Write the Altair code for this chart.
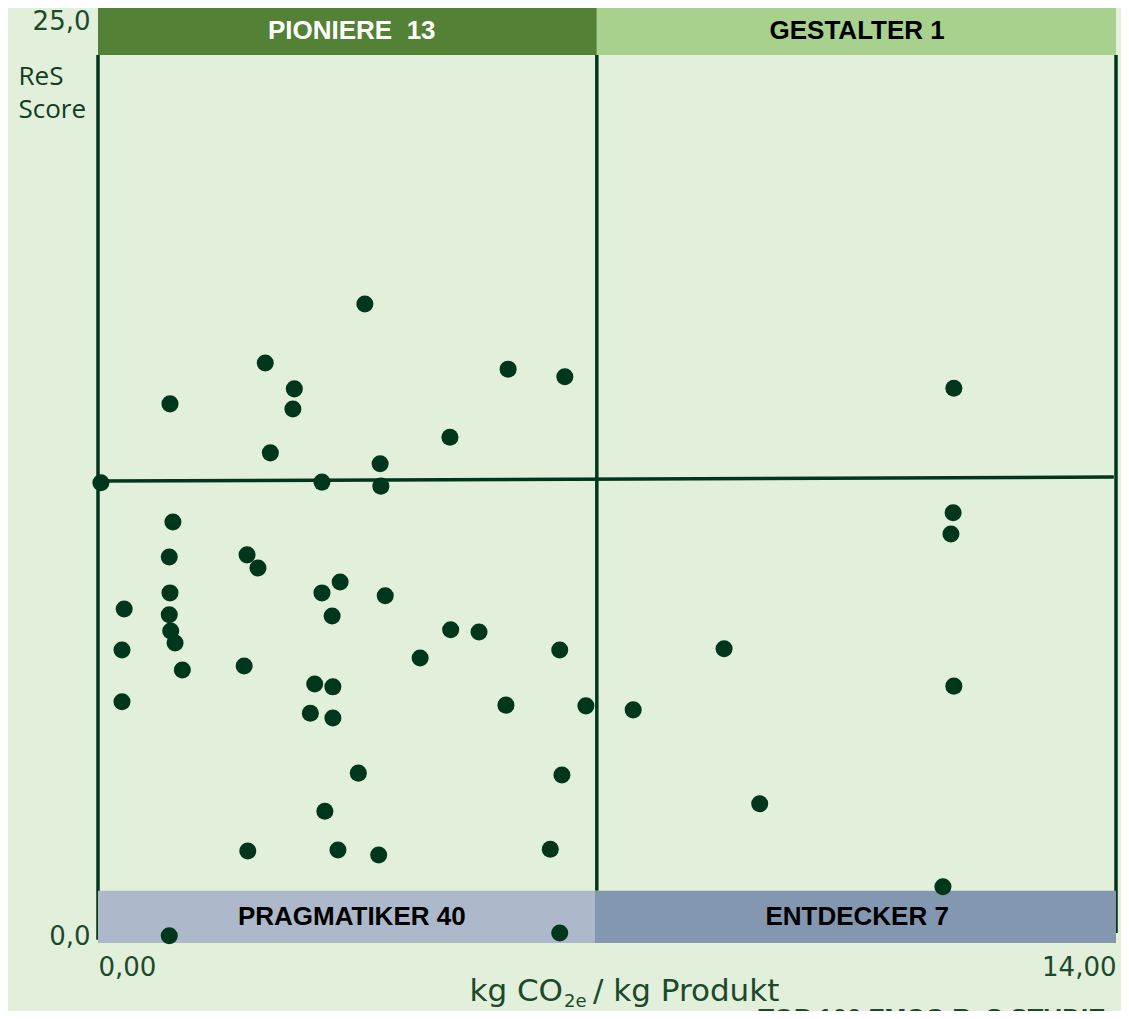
import altair as alt
import pandas as pd

# ---- data ----
co2 = [0.04, 0.36, 0.33, 0.33, 0.99, 1.03, 0.98, 0.99, 0.98, 1.00, 1.06, 1.16, 0.98,
       2.30, 2.70, 2.68, 2.37, 2.05, 2.20, 2.01, 2.06,
       3.67, 3.08, 3.88, 3.89, 3.33, 3.08, 3.22, 3.95, 2.98, 3.23, 2.92, 3.23, 3.58, 3.12, 3.30, 3.86,
       4.84, 5.64, 6.42, 4.85, 5.24, 4.43, 6.35, 5.61, 6.71, 6.38, 6.22, 6.35,
       7.36, 8.61, 9.10, 11.77, 11.76, 11.73, 11.77, 11.62]
res = [12.34, 8.89, 7.77, 6.35, 14.50, 11.27, 10.31, 9.33, 8.73, 8.29, 7.96, 7.22, -0.05,
       15.62, 14.91, 14.36, 13.16, 10.37, 10.01, 7.33, 2.27,
       17.23, 12.36, 12.86, 12.25, 9.63, 9.33, 8.70, 9.25, 6.84, 6.76, 6.04, 5.91, 4.40, 3.36, 2.30, 2.16,
       13.59, 15.45, 15.24, 8.32, 8.26, 7.55, 7.77, 6.26, 6.24, 4.35, 2.32, 0.03,
       6.13, 7.80, 3.56, 14.93, 11.52, 10.94, 6.78, 1.29]

band_labels = ["PIONIERE\u00a0 13", "GESTALTER 1", "PRAGMATIKER 40", "ENTDECKER 7"]
band_x0 = [0, 6.86, 0, 6.83]
band_x1 = [6.86, 14, 6.83, 14]
band_y0 = [24.04, 24.04, -0.246, -0.246]
band_y1 = [25.33, 25.33, 1.18, 1.18]
band_label_x = [3.49, 10.44, 3.49, 10.44]
band_label_y = [24.70, 24.70, 0.465, 0.465]
band_fill = ["#538135", "#a9d18e", "#adb9ca", "#8497b0"]
band_text = ["#ffffff", "#000000", "#000000", "#000000"]

seg_x0 = [0, 6.86, 14, 0]
seg_y0 = [-0.16, 1.18, 0.03, 12.39]
seg_x1 = [0, 6.86, 14, 13.97]
seg_y1 = [24.04, 24.04, 24.04, 12.50]

x_ticks = [0, 14]
y_ticks = [0, 25]

DARK = "#00361b"
LABEL = "#1b4a2b"
BG = "#e2efda"

xs = alt.Scale(domain=[0, 14], nice=False, zero=False)
ys = alt.Scale(domain=[-0.246, 25.328], nice=False, zero=False)

x_axis = alt.Axis(
    values=x_ticks, labelExpr="replace(format(datum.value, '.2f'), '.', ',')",
    labelFlush=True, domain=False, ticks=False, grid=False, title=None,
    labelFont="DejaVu Sans", labelFontSize=26, labelColor=LABEL,
    labelPadding=24, labelBaseline="middle")
y_axis = alt.Axis(
    values=y_ticks, labelExpr="replace(format(datum.value, '.1f'), '.', ',')",
    labelFlush=False, domain=False, ticks=False, grid=False,
    title=["ReS", "Score"], titleAngle=0, titleAlign="left", titleBaseline="alphabetic",
    titleX=-80, titleY=76, titleFont="Open Sans", titleFontWeight="normal",
    titleFontSize=26, titleLineHeight=33, titleColor="#0f3d1f",
    labelFont="DejaVu Sans", labelFontSize=26, labelColor=LABEL,
    labelPadding=8, labelBaseline="middle", labelOffset=2)


def X(field):
    return alt.X(field, scale=xs, axis=x_axis)


def Y(field):
    return alt.Y(field, scale=ys, axis=y_axis)


points = pd.DataFrame({"co2": co2, "res": res})
bands = pd.DataFrame({"x0": band_x0, "x1": band_x1, "y0": band_y0, "y1": band_y1,
                      "lx": band_label_x, "ly": band_label_y, "fill": band_fill,
                      "tc": band_text, "label": band_labels})
segs = pd.DataFrame({"x0": seg_x0, "y0": seg_y0, "x1": seg_x1, "y1": seg_y1})

lines = alt.Chart(segs).mark_rule(color=DARK, strokeWidth=3.5).encode(
    x=X("x0:Q"), x2="x1:Q", y=Y("y0:Q"), y2="y1:Q")

rects = alt.Chart(bands).mark_rect().encode(
    x=X("x0:Q"), x2="x1:Q", y=Y("y0:Q"), y2="y1:Q",
    color=alt.Color("fill:N", scale=None))

band_txt = alt.Chart(bands).mark_text(font="Liberation Sans", fontWeight="bold",
                                      fontSize=26, baseline="middle", align="center").encode(
    x=X("lx:Q"), y=Y("ly:Q"), text="label:N",
    color=alt.Color("tc:N", scale=None))

dots = alt.Chart(points).mark_circle(size=290, opacity=1, color=DARK).encode(
    x=X("co2:Q"), y=Y("res:Q"))

# x-axis title "kg CO2e / kg Produkt" with subscript
t_main1 = pd.DataFrame({"x": [6.395], "y": [-1.83], "t": ["kg CO"]})
t_sub = pd.DataFrame({"x": [6.41], "y": [-2.0], "t": ["2e"]})
t_main2 = pd.DataFrame({"x": [6.807], "y": [-1.83], "t": ["/ kg Produkt"]})


def txt(df, align, size):
    return alt.Chart(df).mark_text(font="DejaVu Sans", fontSize=size,
                                   color=LABEL, align=align, baseline="alphabetic").encode(
        x=X("x:Q"), y=Y("y:Q"), text="t:N")


title1 = txt(t_main1, "right", 31)
title2 = txt(t_sub, "left", 18)
title3 = txt(t_main2, "left", 31)

foot = alt.Chart(pd.DataFrame({"x": [9.08], "y": [-1.98], "t": ["TOP 100 FMCG ReS STUDIE"]})).mark_text(
    font="Liberation Sans", fontWeight="bold", fontSize=26, color="#1b4a2b",
    align="left", baseline="top").encode(
    x=X("x:Q"), y=Y("y:Q"), text="t:N")

chart = alt.layer(lines, rects, band_txt, dots, title1, title2, title3, foot).properties(
    width=1018, height=935,
    padding={"left": 90, "top": 0, "right": 5, "bottom": 68},
    autosize=alt.AutoSizeParams(type="none"),
    background=BG,
).configure_view(stroke=None, fill=BG)

chart.save("out.html", embed_options={"renderer": "svg", "actions": False})
